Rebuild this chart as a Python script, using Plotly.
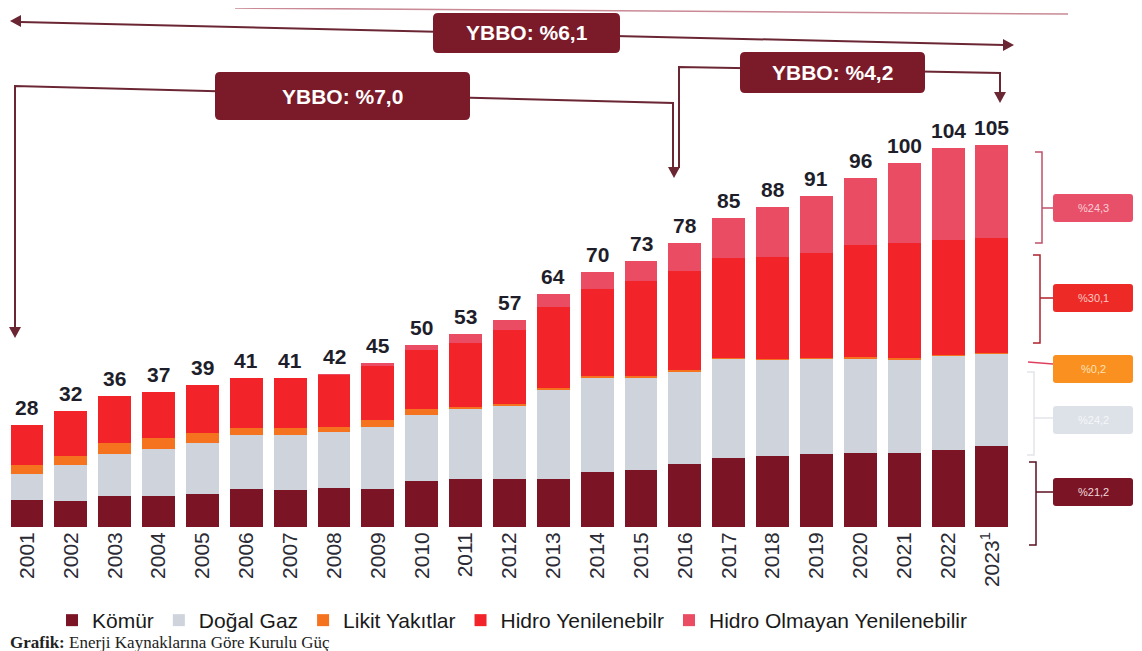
import plotly.graph_objects as go

# Kurulu güç (GW), kaynaklara göre
years = ["2001", "2002", "2003", "2004", "2005", "2006", "2007", "2008", "2009", "2010",
         "2011", "2012", "2013", "2014", "2015", "2016", "2017", "2018", "2019", "2020",
         "2021", "2022", "2023<sup>1</sup>"]
komur = [7.4, 7.1, 8.5, 8.5, 9.0, 10.5, 10.3, 10.7, 10.5, 12.7, 13.1, 13.1, 13.2, 15.2,
         15.7, 17.3, 18.9, 19.4, 20.0, 20.2, 20.3, 21.1, 22.3]
dogal_gaz = [7.1, 9.8, 11.6, 12.9, 14.2, 14.7, 15.0, 15.3, 17.1, 18.2, 19.4, 20.2, 24.7,
             26.0, 25.4, 25.4, 27.3, 26.5, 26.2, 26.2, 25.7, 25.9, 25.4]
likit = [2.5, 2.5, 3.0, 3.0, 2.5, 2.0, 1.9, 1.6, 1.9, 1.4, 0.5, 0.5, 0.3, 0.3, 0.3, 0.3,
         0.3, 0.3, 0.3, 0.3, 0.3, 0.3, 0.2]
hidro = [11.0, 12.6, 12.9, 12.6, 13.3, 13.8, 13.8, 14.3, 15.0, 16.4, 17.5, 20.4, 22.2,
         23.8, 26.3, 27.3, 27.3, 28.0, 28.8, 30.9, 31.7, 31.6, 31.6]
hidro_olmayan = [0.0, 0.0, 0.0, 0.0, 0.0, 0.0, 0.0, 0.1, 0.5, 1.3, 2.5, 2.8, 3.6, 4.7,
                 5.3, 7.7, 11.2, 13.8, 15.7, 18.4, 22.0, 25.1, 25.5]
totals = [28, 32, 36, 37, 39, 41, 41, 42, 45, 50, 53, 57, 64, 70, 73, 78, 85, 88, 91, 96,
          100, 104, 105]

series_names = ["Kömür", "Doğal Gaz", "Likit Yakıtlar", "Hidro Yenilenebilr",
                "Hidro Olmayan Yenilenebilir"]
series_vals = [komur, dogal_gaz, likit, hidro, hidro_olmayan]
colors = ["#7b1526", "#cfd4dc", "#f5731e", "#f2242a", "#ea4c63"]

share_labels = ["%21,2", "%24,2", "%0,2", "%30,1", "%24,3"]

# page body has an 8px margin, so the figure starts at (8, 8) on screen
OFF = 8
W, H = 1142 - OFF, 651 - OFF
# plot area on screen
SL, SR, ST, SB = OFF, 1014, OFF, 527
STEP = 43.86          # px between bar centres
FIRST = 27            # screen x of the first bar centre
PXU = 3.64            # px per GW


def px(x):
    return (x - SL) / (SR - SL)


def py(y):
    return (SB - y) / (SB - ST)


def path(points):
    s = "M{},{}".format(px(points[0][0]), py(points[0][1]))
    for x, y in points[1:]:
        s += " L{},{}".format(px(x), py(y))
    return s


def tri_down(x, y, w=6, h=11):
    return path([(x - w, y - h), (x + w, y - h), (x, y)]) + " Z"


def tri_side(x, y, d, w=6, h=11):
    return path([(x - d * h, y - w), (x - d * h, y + w), (x, y)]) + " Z"


def rrect(x0, y0, x1, y1, r=5):
    pts = "M{},{} L{},{} Q{},{} {},{} L{},{} Q{},{} {},{} L{},{} Q{},{} {},{} L{},{} Q{},{} {},{} Z"
    return pts.format(px(x0 + r), py(y0), px(x1 - r), py(y0), px(x1), py(y0), px(x1), py(y0 + r),
                      px(x1), py(y1 - r), px(x1), py(y1), px(x1 - r), py(y1),
                      px(x0 + r), py(y1), px(x0), py(y1), px(x0), py(y1 - r),
                      px(x0), py(y0 + r), px(x0), py(y0), px(x0 + r), py(y0))


fig = go.Figure()
for name, vals, col in zip(series_names, series_vals, colors):
    fig.add_trace(go.Bar(x=years, y=vals, name=name, marker=dict(color=col, line=dict(width=0))))

shapes = []
annotations = []


def add_path(p, color, width=2, fill=None):
    if fill:
        shapes.append(dict(type="path", xref="paper", yref="paper", path=p,
                           fillcolor=fill, line=dict(width=0)))
    else:
        shapes.append(dict(type="path", xref="paper", yref="paper", path=p,
                           line=dict(color=color, width=width)))


line_col = "#6b2633"
# faint line at the very top (from the scan)
add_path(path([(235, 8), (1068, 14)]), "#c98a96", 1.5)
# YBBO %6,1 double arrow
add_path(path([(20, 22), (1004, 45)]), line_col)
add_path(tri_side(10, 21, -1), None, fill=line_col)
add_path(tri_side(1014, 45, 1), None, fill=line_col)
# YBBO %7,0 bracket
add_path(path([(15, 328), (15, 86), (673, 103), (673, 168)]), line_col)
add_path(tri_down(15, 338), None, fill=line_col)
# YBBO %4,2 bracket
add_path(path([(679, 168), (679, 67), (1000, 73), (1000, 92)]), line_col)
add_path(tri_down(1000, 103), None, fill=line_col)
add_path(tri_down(674, 178), None, fill=line_col)

box_col = "#7b1a28"
for txt, (x0, y0, x1, y1) in [("YBBO: %6,1", (433, 13, 620, 53)),
                              ("YBBO: %7,0", (215, 72, 470, 120)),
                              ("YBBO: %4,2", (740, 52, 925, 93))]:
    add_path(rrect(x0, y0, x1, y1), None, fill=box_col)
    annotations.append(dict(xref="paper", yref="paper", x=px((x0 + x1) / 2), y=py((y0 + y1) / 2),
                            xanchor="center", yanchor="middle",
                            text="<b>" + txt + "</b>", showarrow=False,
                            font=dict(family="Liberation Sans, Arial", size=21, color="white")))

# right side brackets and share boxes
brackets = [  # (top, bottom, x, mid, color)
    (462, 545, 1036, 492, "#5a1020"),
    (372, 455, 1034, 418, "#e2e5ea"),
    (None, None, None, 363, "#e04060"),
    (255, 343, 1040, 298, "#b0202c"),
    (152, 243, 1042, 208, "#c0506a"),
]
box_fill = ["#7b1525", "#dde2e8", "#f9901f", "#ee2a26", "#e8506a"]
box_text = ["#f0d8dc", "#f6f7f9", "#fde2b8", "#f9c8c2", "#f8cdd4"]
box_y = [492, 420, 369, 298, 208]
for (top, bot, bx, mid, col), lab, fc, tc, cy in zip(brackets, share_labels, box_fill, box_text, box_y):
    if top is not None:
        add_path(path([(bx - 7, top), (bx, top), (bx, bot), (bx - 7, bot)]), col, 1.5)
        add_path(path([(bx, mid), (1053, mid)]), col, 1.5)
    else:
        add_path(path([(1028, mid - 1), (1053, mid + 1)]), col, 1.5)
    add_path(rrect(1053, cy - 14, 1133, cy + 14, 3), None, fill=fc)
    annotations.append(dict(xref="paper", yref="paper", x=px(1093), y=py(cy), text=lab,
                            xanchor="center", yanchor="middle", showarrow=False,
                            font=dict(family="Liberation Sans, Arial", size=11, color=tc)))

# totals above the bars (category index on the x axis)
for i, tot in enumerate(totals):
    annotations.append(dict(x=i, y=tot, text="<b>{}</b>".format(tot), showarrow=False,
                            xanchor="center", yanchor="bottom", yshift=4,
                            font=dict(family="Liberation Sans, Arial", size=21, color="#1e1e2a")))

# caption at the bottom
annotations.append(dict(xref="paper", yref="paper", x=px(OFF), y=py(642), xanchor="left",
                        yanchor="middle",
                        text="<b>Grafik:</b> Enerji Kaynaklarına Göre Kurulu Güç", showarrow=False,
                        font=dict(family="Liberation Serif, Times New Roman", size=17,
                                  color="#222222")))

fig.update_layout(
    barmode="stack", bargap=0.25,
    width=W, height=H,
    margin=dict(l=SL - OFF, r=W - (SR - OFF), t=ST - OFF, b=H - (SB - OFF), pad=0,
                autoexpand=False),
    paper_bgcolor="white", plot_bgcolor="white",
    showlegend=True,
    legend=dict(orientation="h", x=px(52), y=py(600), xanchor="left", yanchor="top",
                font=dict(family="Liberation Sans, Arial", size=21, color="#1a1a1a"),
                itemwidth=30, tracegroupgap=0, traceorder="normal"),
    xaxis=dict(type="category", range=[(SL - FIRST) / STEP, (SR - FIRST) / STEP],
               tickangle=-90, showgrid=False, showline=False, ticks="", fixedrange=True,
               tickfont=dict(family="Liberation Sans, Arial", size=21, color="#2a2a35")),
    yaxis=dict(range=[0, (SB - ST) / PXU], visible=False, fixedrange=True),
    shapes=shapes,
    annotations=annotations,
)

fig.write_html("out.html")
